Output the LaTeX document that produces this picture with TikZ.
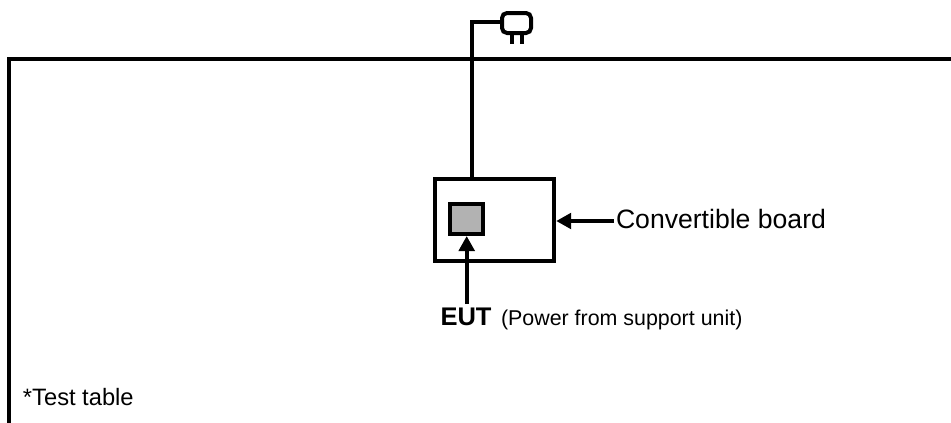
\documentclass[tikz,border=0pt]{standalone}
\usepackage{fontspec}
\setmainfont{Liberation Sans}
\usetikzlibrary{arrows.meta,calc}
\definecolor{eutgrey}{RGB}{178,178,178}
\tikzset{
  heavy/.style={draw=black,line width=4pt},
  boxnode/.style={heavy,fill=white,inner sep=0pt,outer sep=0pt,anchor=north west},
  lead/.style={black,line width=4pt,-{Triangle[length=15pt,width=15.5pt,sep=0pt]}},
  lbl/.style={inner sep=0pt,outer sep=0pt,anchor=base west,text=black},
}
\begin{document}
\begin{tikzpicture}[x=1pt,y=-1pt]
\useasboundingbox (0,0) rectangle (951,423);
\coordinate (tr) at (951,59.3);
\coordinate (tl) at (8.7,59.3);
\coordinate (bl) at (8.7,423);
\draw[heavy,line join=miter] (tr) -- (tl) -- (bl);
\node[boxnode,minimum width=119.3pt,minimum height=81.4pt] (board) at (434.7,179.3) {};
\node[boxnode,draw,line width=3.3pt,fill=eutgrey,minimum width=33pt,minimum height=30pt] (eut) at (450,204) {};
\node[heavy,fill=white,rounded corners=5pt,inner sep=0pt,outer sep=0pt,anchor=north west,minimum width=29pt,minimum height=20pt] (plug) at (502,13) {};
\coordinate (p1) at ($(plug.south west)+(10.2,0)$);
\coordinate (p2) at ($(plug.south west)+(20,0)$);
\coordinate (p1e) at ($(p1)+(0,11)$);
\coordinate (p2e) at ($(p2)+(0,11)$);
\draw[heavy] (p1) -- (p1e);
\draw[heavy] (p2) -- (p2e);
\coordinate (bend) at (472.3,22);
\coordinate (boardtop) at (472.3,179.3);
\draw[heavy,line join=miter] (boardtop) -- (bend) -- (bend -| plug.west);
\node[lbl,font=\fontsize{26.6}{27}\selectfont] (cb) at (616,228.3) {Convertible board};
\node[lbl,font=\fontsize{25.5}{26}\selectfont\bfseries] (eutl) at (440.5,325.7) {EUT};
\node[lbl,font=\fontsize{21.4}{22}\selectfont] (pw) at (501,325.7) {(Power from support unit)};
\node[lbl,font=\fontsize{23.7}{24}\selectfont] (tt) at (23,405) {*Test table};
\coordinate (cbs) at (614,221);
\coordinate (eutu) at (466.7,304);
\draw[lead] (cbs) -- ($(board.east |- cbs)+(2.2,0)$);
\draw[lead] (eutu) -- ($(eutu |- eut.south)+(0,2)$);
\end{tikzpicture}
\end{document}
